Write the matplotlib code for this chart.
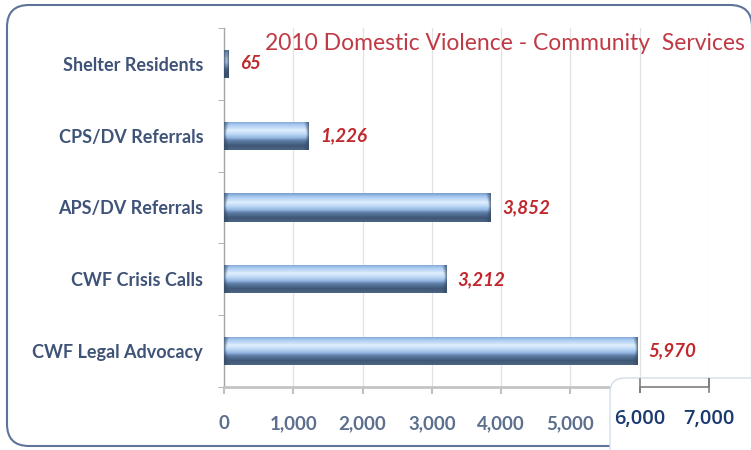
import numpy as np
import matplotlib
matplotlib.use("Agg")
import matplotlib.pyplot as plt
from matplotlib.patches import FancyBboxPatch
from matplotlib.lines import Line2D
from matplotlib.transforms import IdentityTransform, blended_transform_factory
from matplotlib.colors import to_rgb

categories = ["Shelter Residents", "CPS/DV Referrals", "APS/DV Referrals",
              "CWF Crisis Calls", "CWF Legal Advocacy"]
values = [65, 1226, 3852, 3212, 5970]
x_ticks = [0, 1000, 2000, 3000, 4000, 5000, 6000, 7000]
title = "2010 Domestic Violence - Community  Services"

plt.rcParams["font.family"] = ["Lato", "DejaVu Sans"]

W, H, DPI = 751, 450, 100
fig = plt.figure(figsize=(W / DPI, H / DPI), dpi=DPI)
fig.patch.set_facecolor("white")

# plot area in pixels: x 224..709, y 28..387 from top
ax = fig.add_axes([224 / W, (H - 387) / H, (709 - 224) / W, (387 - 28) / H])
ax.set_xlim(0, 7000)
ax.set_ylim(len(categories) - 0.5, -0.5)

bar_h = 0.39
bars = ax.barh(range(len(categories)), values, height=bar_h,
               color="#7fa3d0", edgecolor="none", zorder=3)


def gradient_rgb(stops, n):
    t = np.linspace(0, 1, n)
    pos = [s[0] for s in stops]
    cols = np.array([to_rgb(s[1]) for s in stops])
    return np.stack([np.interp(t, pos, cols[:, k]) for k in range(3)], axis=1)


stops = [(0.0, "#7a9fcf"), (0.12, "#a8c9f0"), (0.32, "#e0effd"),
         (0.45, "#bcd8f6"), (0.58, "#93b5e0"), (0.68, "#5e7da6"),
         (0.85, "#3f5877"), (1.0, "#4b6485")]
end_col = np.array(to_rgb("#34485f"))
px_per_unit = (709 - 224) / 7000

for b in bars:
    x0, y0 = b.get_x(), b.get_y()
    w, h = b.get_width(), b.get_height()
    ncol = max(int(w * px_per_unit) * 2, 4)
    nrow = 60
    col = gradient_rgb(stops, nrow)
    img = np.repeat(col[:, None, :], ncol, axis=1)
    xs = (np.arange(ncol) + 0.5) / ncol * w * px_per_unit
    d = np.minimum(xs, w * px_per_unit - xs)
    tv = np.abs(np.linspace(0, 1, nrow) - 0.45)[:, None]
    bevel = 7.0 * (0.35 + tv)
    f = np.clip(1 - d[None, :] / bevel, 0, 1) * 0.8
    img = img * (1 - f[..., None]) + end_col * f[..., None]
    im = ax.imshow(img, extent=(x0, x0 + w, y0 + h, y0), aspect="auto",
                   interpolation="bilinear", zorder=4)
    im.set_clip_path(b)
    ax.annotate(f"{b.get_width():,.0f}", (x0 + w, y0 + h / 2),
                xytext=(8, 0), textcoords="offset points", va="center",
                ha="left", color="#c0282d", fontsize=13.5, fontweight="bold",
                fontstyle="italic", zorder=5)

ax.set_yticks(range(len(categories)))
ax.set_yticklabels(categories, fontsize=13, fontweight="bold", color="#3f5378")
ax.set_yticks(np.arange(-0.5, len(categories)), minor=True)
ax.tick_params(axis="y", which="major", length=0, pad=15)
ax.tick_params(axis="y", which="minor", length=4, color="#a6a6a6", direction="out")

ax.set_xticks(x_ticks)
ax.set_xticklabels([f"{v:,}" if v < 6000 else "" for v in x_ticks],
                   fontsize=13.5, fontweight="bold", color="#5c6f8e")
ax.tick_params(axis="x", length=5, color="#bfbfbf", width=1.5, pad=15)
ax.grid(axis="x", color="#e2e2e2", lw=0.9, zorder=0)
ax.set_axisbelow(True)

for s in ["top", "right"]:
    ax.spines[s].set_visible(False)
ax.spines["bottom"].set_color("#c4c4c4")
ax.spines["bottom"].set_linewidth(2)
ax.spines["left"].set_color("#a6a6a6")
ax.spines["left"].set_linewidth(1)

fig.text(265 / W, (H - 44) / H, title, fontsize=16.5, color="#c03a45",
         ha="left", va="center")

# outer rounded frame
frame = FancyBboxPatch((7, 4), 745, 441, boxstyle="round,pad=0,rounding_size=22",
                       transform=IdentityTransform(), facecolor="none",
                       edgecolor="#5d7399", lw=1.5, zorder=5)
fig.add_artist(frame)

# pasted-over axis piece for 6,000 and 7,000
patch = FancyBboxPatch((610, -30), 200, 102, boxstyle="round,pad=0,rounding_size=15",
                       transform=IdentityTransform(), facecolor="white",
                       edgecolor="#d3ddeb", lw=1, zorder=6)
fig.add_artist(patch)
bt = blended_transform_factory(ax.transData, ax.transAxes)
span = 387 - 28
seg = Line2D([6000, 6000, 6000, 7000, 7000, 7000],
             [8 / span, -5 / span, 0, 0, 8 / span, -5 / span], transform=bt,
             color="#7f7f7f", lw=1.2, zorder=7)
fig.add_artist(seg)
for v in x_ticks[-2:]:
    fig.text(v, -32 / span, f"{v:,}", transform=bt, ha="center", va="center",
             fontsize=14.5, color="#1a3a70", family=["Open Sans", "DejaVu Sans"],
             fontweight=600, zorder=8)

fig.savefig("out.png", dpi=DPI, facecolor="white")
